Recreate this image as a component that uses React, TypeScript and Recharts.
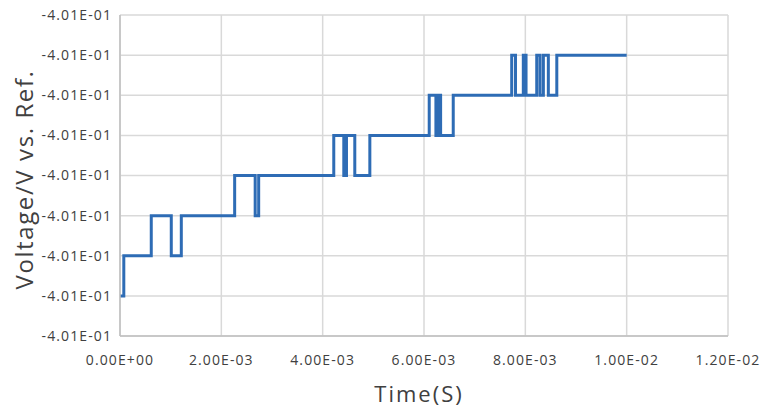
import React from 'react';
import { CartesianGrid, Label, Line, LineChart, XAxis, YAxis } from 'recharts';

// Potential steps over time; voltage levels differ by 1 µV so every tick prints as -4.01E-01
const timeS = [
  0, 0.000075, 0.000617, 0.001012, 0.00121, 0.002263, 0.002668, 0.002737, 0.004219, 0.004417,
  0.00447, 0.004634, 0.004931, 0.006103, 0.006235, 0.00627, 0.006328, 0.006577, 0.007731, 0.007806,
  0.00796, 0.008014, 0.008225, 0.00829, 0.008356, 0.008454, 0.008621, 0.01,
];
const voltage = [
  -0.400999, -0.400998, -0.400997, -0.400998, -0.400997, -0.400996, -0.400997, -0.400996, -0.400995, -0.400996,
  -0.400995, -0.400996, -0.400995, -0.400994, -0.400995, -0.400994, -0.400995, -0.400994, -0.400993, -0.400994,
  -0.400993, -0.400994, -0.400993, -0.400994, -0.400993, -0.400994, -0.400993, -0.400993,
];
const xTicks = [0, 0.002, 0.004, 0.006, 0.008, 0.01, 0.012];
const yTicks = [
  -0.401, -0.400999, -0.400998, -0.400997, -0.400996, -0.400995, -0.400994, -0.400993, -0.400992,
];

const data = timeS.map((t, i) => ({ t, v: voltage[i] }));

const sci = (v: number) => {
  const [m, e] = v.toExponential(2).split('e');
  const exp = Math.abs(Number(e)).toString().padStart(2, '0');
  return `${m}E${e.startsWith('-') ? '-' : '+'}${exp}`;
};

const font = '"Open Sans", "Liberation Sans", sans-serif';
const textColor = '#404040';
const grid = '#d9d9d9';
const axis = '#bfbfbf';
const lineColor = '#2e6cb5';
const tickStyle = { fontSize: 14, fill: textColor, fontFamily: font, letterSpacing: 1.1 };

export default function App() {
  return (
    <div style={{ position: 'absolute', left: 0, top: 0, width: 763, height: 410, background: '#fff', fontFamily: font }}>
      <LineChart width={763} height={410} data={data} margin={{ top: 15, right: 35, bottom: 0, left: 0 }}>
        <CartesianGrid stroke={grid} strokeWidth={1.5} />
        <XAxis
          type="number"
          dataKey="t"
          domain={[0, 0.012]}
          ticks={xTicks}
          tickFormatter={sci}
          height={74}
          tickLine={false}
          tickMargin={13}
          axisLine={{ stroke: axis, strokeWidth: 1.5 }}
          tick={tickStyle}
          interval={0}
        >
          <Label
            content={({ viewBox }: any) => (
              <text
                x={viewBox.x + viewBox.width / 2 - 5}
                y={viewBox.y + 57}
                textAnchor="middle"
                dominantBaseline="central"
                fontSize={22}
                fill={textColor}
                fontFamily={font}
                letterSpacing={2}
              >
                Time(S)
              </text>
            )}
          />
        </XAxis>
        <YAxis
          type="number"
          dataKey="v"
          domain={[-0.401, -0.400992]}
          ticks={yTicks}
          tickFormatter={sci}
          width={120}
          tickLine={false}
          axisLine={{ stroke: axis, strokeWidth: 1.5 }}
          tick={tickStyle}
          interval={0}
        >
          <Label
            content={({ viewBox }: any) => {
              const cx = 23;
              const cy = viewBox.y + viewBox.height / 2 + 4;
              return (
                <text
                  x={cx}
                  y={cy}
                  transform={`rotate(-90, ${cx}, ${cy})`}
                  textAnchor="middle"
                  dominantBaseline="central"
                  fontSize={24}
                  fill={textColor}
                  fontFamily={font}
                  letterSpacing={1.6}
                >
                  Voltage/V vs. Ref.
                </text>
              );
            }}
          />
        </YAxis>
        <Line
          type="stepAfter"
          dataKey="v"
          stroke={lineColor}
          strokeWidth={3}
          dot={false}
          isAnimationActive={false}
        />
      </LineChart>
    </div>
  );
}
